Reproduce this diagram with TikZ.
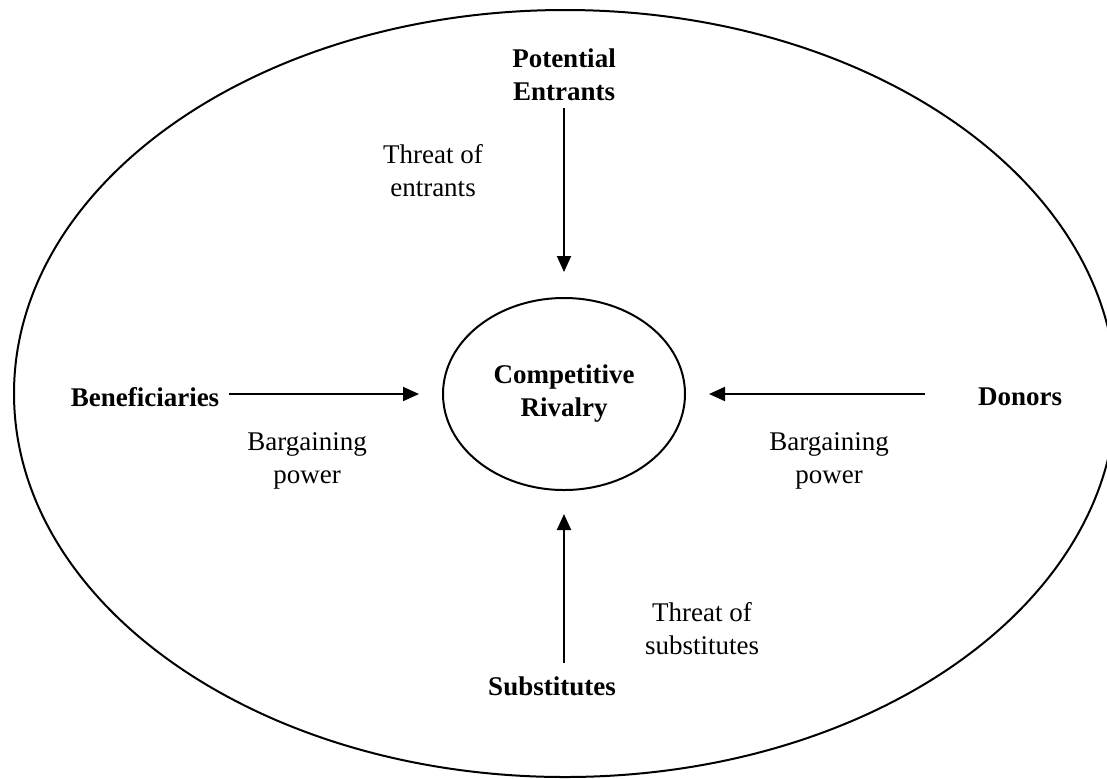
\documentclass[tikz,border=0pt]{standalone}
\usepackage{fontspec}
\setmainfont{Liberation Serif}
\usetikzlibrary{arrows.meta,shapes.geometric}

\tikzset{
  notetext/.style={inner sep=0pt, align=center, font=\fontsize{13.5pt}{16.5pt}\selectfont},
  force/.style={notetext, font=\fontsize{13.5pt}{16.5pt}\selectfont\bfseries},
  arr/.style={line width=1pt, -{Triangle[length=8pt,width=7pt]}},
}

\begin{document}
\begin{tikzpicture}[x=0.5pt, y=-0.5pt]
  \useasboundingbox (0,0) rectangle (1107,778);
  \clip (0,0) rectangle (1107,778);

  % market boundary
  \draw[line width=1pt] (565,393.5) ellipse [x radius=551, y radius=383.5];

  % central rivalry
  \node[force, draw, line width=1pt, ellipse, minimum width=121pt, minimum height=96pt]
    (cr) at (564,394) {Competitive\\Rivalry};

  % the four forces
  \node[force] (pe)  at (564,75)  {Potential\\Entrants};
  \node[force] (ben) at (145,397) {Beneficiaries};
  \node[force] (don) at (1020,397) {Donors};
  \node[force] (sub) at (552,686) {Substitutes};

  % labels on the arrows
  \node[notetext] (te) at (433,171) {Threat of\\entrants};
  \node[notetext] (bl) at (307,461) {Bargaining\\power};
  \node[notetext] (br) at (829,461) {Bargaining\\power};
  \node[notetext] (ts) at (702,629) {Threat of\\substitutes};

  % arrows into the centre
  \draw[arr, shorten <=3.5pt, shorten >=12.5pt] (pe.south) -- (cr.north);
  \draw[arr, shorten <=4.5pt, shorten >=11.5pt] (ben.east |- cr.west) -- (cr.west);
  \draw[arr, shorten <=26.5pt, shorten >=11.5pt] (don.west |- cr.east) -- (cr.east);
  \draw[arr, shorten <=6.5pt, shorten >=11.5pt] (sub.north -| cr.south) -- (cr.south);
\end{tikzpicture}
\end{document}
